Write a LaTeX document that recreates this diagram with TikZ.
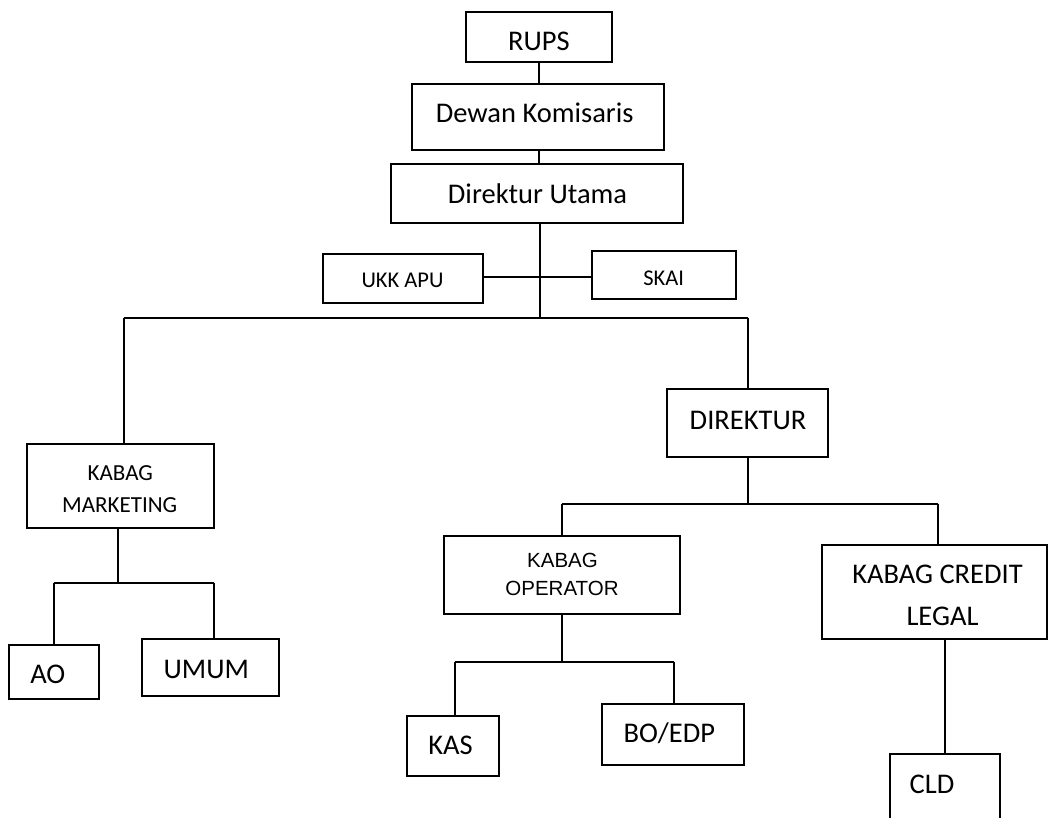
\documentclass[tikz,border=0pt]{standalone}
\usepackage{fontspec}
\setmainfont{Carlito}
\newfontfamily\arialf{Liberation Sans}
\begin{document}
\begin{tikzpicture}[x=1pt,y=-1pt,
  orgbox/.style={draw, line width=2pt, inner sep=0pt, rectangle},
  conn/.style={line width=2pt},
  lbl/.style={anchor=base, inner sep=0pt, font=\fontsize{28.5}{32}\selectfont},
  lblsmall/.style={anchor=base, inner sep=0pt, font=\fontsize{22.5}{26}\selectfont},
  lblarial/.style={anchor=base, inner sep=0pt, font=\arialf\fontsize{20.5}{24}\selectfont}]
\useasboundingbox (0,0) rectangle (1049,817);
% boxes
\node[orgbox, minimum width=146pt, minimum height=50pt] (rups) at (539,37) {};
\node[orgbox, minimum width=252pt, minimum height=66pt] (dewan) at (538,117) {};
\node[orgbox, minimum width=292pt, minimum height=59pt] (dirut) at (537,193.5) {};
\node[orgbox, minimum width=160pt, minimum height=49pt] (ukk) at (403,278.5) {};
\node[orgbox, minimum width=144pt, minimum height=48pt] (skai) at (664,275) {};
\node[orgbox, minimum width=187pt, minimum height=84pt] (mkt) at (120.5,486) {};
\node[orgbox, minimum width=90pt, minimum height=54pt] (ao) at (54,672) {};
\node[orgbox, minimum width=137pt, minimum height=57pt] (umum) at (210.5,667.5) {};
\node[orgbox, minimum width=161pt, minimum height=68pt] (dir) at (747.5,423) {};
\node[orgbox, minimum width=236pt, minimum height=78pt] (ops) at (562,575) {};
\node[orgbox, minimum width=92pt, minimum height=60pt] (kas) at (453,746) {};
\node[orgbox, minimum width=142pt, minimum height=61pt] (bo) at (673,734.5) {};
\node[orgbox, minimum width=225pt, minimum height=94pt] (cred) at (934.5,592) {};
\node[orgbox, minimum width=110pt, minimum height=96pt] (cld) at (945,802) {};
% labels
\node[lbl] (trups) at (539,50) {RUPS};
\node[lbl] (tdewan) at (534.7,122.7) {Dewan Komisaris};
\node[lbl] (tdirut) at (537.5,203.3) {Direktur Utama};
\node[lblsmall] (tukk) at (402.5,287.3) {UKK APU};
\node[lblsmall] (tskai) at (663.7,285) {SKAI};
\node[lbl, font=\fontsize{23}{26}\selectfont] (tmkt1) at (120.3,480) {KABAG};
\node[lbl, font=\fontsize{23}{26}\selectfont] (tmkt2) at (119.7,512.3) {MARKETING};
\node[lbl] (tao) at (47.8,683.3) {AO};
\node[lbl] (tumum) at (206.3,678.3) {UMUM};
\node[lbl] (tdir) at (748,429.3) {DIREKTUR};
\node[lblarial] (tops1) at (562.5,567.3) {KABAG};
\node[lblarial] (tops2) at (562,595) {OPERATOR};
\node[lbl] (tkas) at (450.5,754) {KAS};
\node[lbl] (tbo) at (669.3,742.3) {BO/EDP};
\node[lbl] (tcred1) at (937.5,583.3) {KABAG CREDIT};
\node[lbl] (tcred2) at (942.5,625) {LEGAL};
\node[lbl] (tcld) at (932,793.3) {CLD};
% junction coordinates
\coordinate (side) at (540,276.7);
\coordinate (bus1) at (540,318.3);
\coordinate (bus1l) at (124,318.3);
\coordinate (bus1r) at (747.5,318.3);
\coordinate (bus2) at (747.5,503.5);
\coordinate (bus2l) at (562,503.5);
\coordinate (bus2r) at (937.7,503.5);
\coordinate (bus3) at (118.3,582.7);
\coordinate (bus3l) at (54,582.7);
\coordinate (bus3r) at (213.7,582.7);
\coordinate (bus4) at (562,661.7);
\coordinate (bus4l) at (454.7,661.7);
\coordinate (bus4r) at (674.3,661.7);
% connectors
\draw[conn] (rups.south) -- (rups.south |- dewan.north);
\draw[conn] (dewan.south -| rups.south) -- (rups.south |- dirut.north);
\draw[conn] (dirut.south -| bus1) -- (bus1);
\draw[conn] (ukk.east |- side) -- (skai.west |- side);
\draw[conn] (bus1l) -- (bus1r);
\draw[conn] (bus1l) -- (bus1l |- mkt.north);
\draw[conn] (bus1r) -- (dir.north);
\draw[conn] (dir.south) -- (bus2);
\draw[conn] (bus2l) -- (bus2r);
\draw[conn] (bus2l) -- (ops.north);
\draw[conn] (bus2r) -- (bus2r |- cred.north);
\draw[conn] (bus3 |- mkt.south) -- (bus3);
\draw[conn] (bus3l) -- (bus3r);
\draw[conn] (bus3l) -- (ao.north);
\draw[conn] (bus3r) -- (bus3r |- umum.north);
\draw[conn] (ops.south) -- (bus4);
\draw[conn] (bus4l) -- (bus4r);
\draw[conn] (bus4l) -- (bus4l |- kas.north);
\draw[conn] (bus4r) -- (bus4r |- bo.north);
\draw[conn] (cred.south -| cld.north) -- (cld.north);
\end{tikzpicture}
\end{document}
